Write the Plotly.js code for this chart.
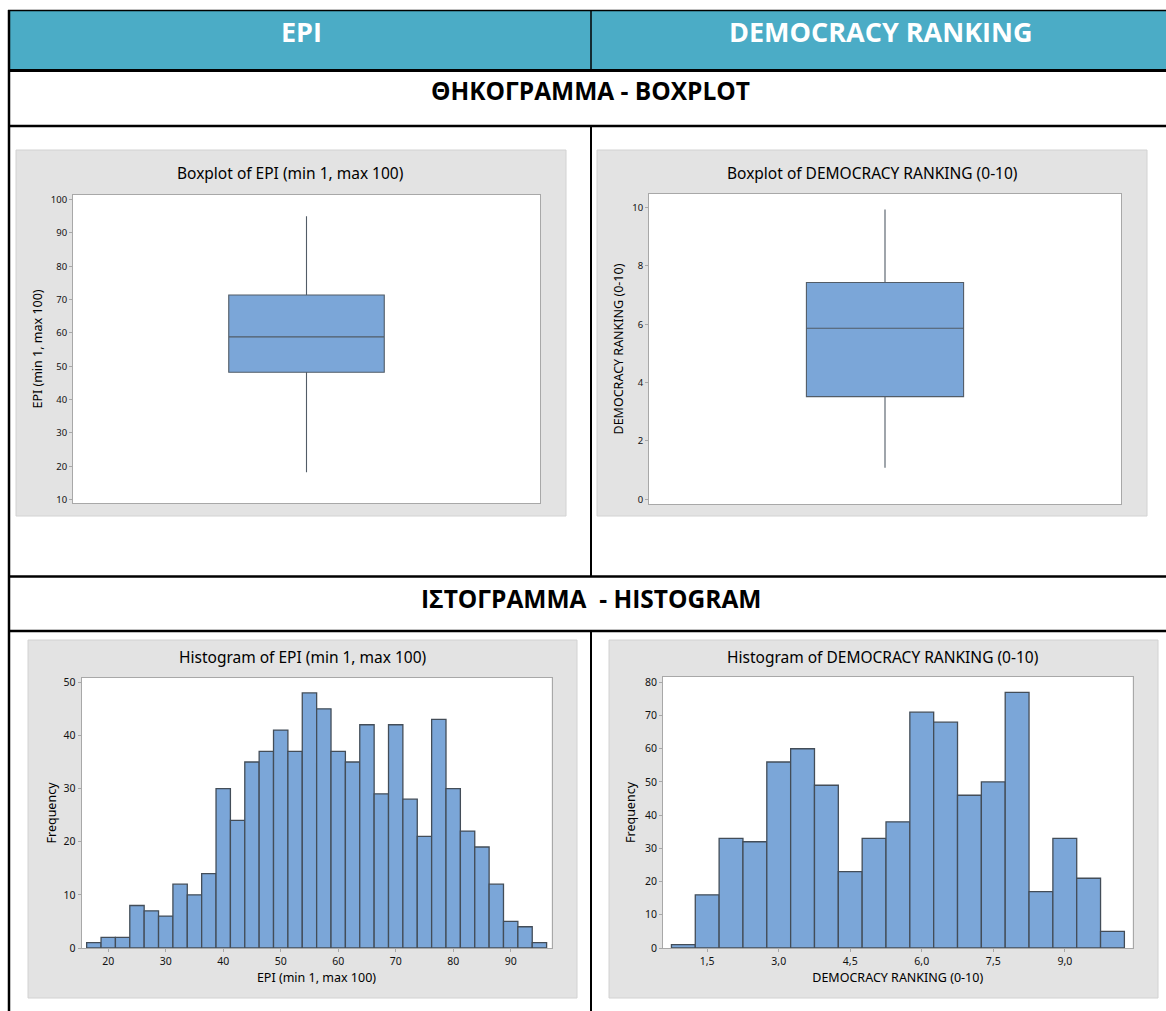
<!DOCTYPE html>
<html><head><meta charset="utf-8">
<script src="https://cdn.plot.ly/plotly-3.0.1.min.js"></script>
<style>html,body{margin:0;padding:0;background:#fff;} #chart{width:1166px;height:1011px;}</style>
</head><body><div id="chart"></div>
<script>
// ---------------- DATA ----------------
const columnHeaders = ['EPI', 'DEMOCRACY RANKING'];
const sectionHeaders = ['ΘΗΚΟΓΡΑΜΜΑ - BOXPLOT', 'ΙΣΤΟΓΡΑΜΜΑ\u00A0\u00A0- HISTOGRAM'];
const chartTitles = ['Boxplot of EPI (min 1, max 100)', 'Boxplot of DEMOCRACY RANKING (0-10)',
                     'Histogram of EPI (min 1, max 100)', 'Histogram of DEMOCRACY RANKING (0-10)'];
const epiLabel = 'EPI (min 1, max 100)';
const drLabel = 'DEMOCRACY RANKING (0-10)';

// Boxplot statistics
const epiLowerWhisker = [18.2];
const epiQ1 = [48.2];
const epiMedian = [58.8];
const epiQ3 = [71.4];
const epiUpperWhisker = [95.0];

const drLowerWhisker = [1.08];
const drQ1 = [3.52];
const drMedian = [5.86];
const drQ3 = [7.43];
const drUpperWhisker = [9.93];

// Histogram of EPI: bin midpoints (width 2.5) and frequencies
const epiBinCenters = [17.5, 20, 22.5, 25, 27.5, 30, 32.5, 35, 37.5, 40, 42.5, 45, 47.5, 50, 52.5, 55,
                       57.5, 60, 62.5, 65, 67.5, 70, 72.5, 75, 77.5, 80, 82.5, 85, 87.5, 90, 92.5, 95];
const epiCounts = [1, 2, 2, 8, 7, 6, 12, 10, 14, 30, 24, 35, 37, 41, 37, 48,
                   45, 37, 35, 42, 29, 42, 28, 21, 43, 30, 22, 19, 12, 5, 4, 1];

// Histogram of DEMOCRACY RANKING: bin midpoints (width 0.5) and frequencies
const drBinCenters = [1.0, 1.5, 2.0, 2.5, 3.0, 3.5, 4.0, 4.5, 5.0, 5.5, 6.0, 6.5, 7.0, 7.5, 8.0, 8.5, 9.0, 9.5, 10.0];
const drCounts = [1, 16, 33, 32, 56, 60, 49, 23, 33, 38, 71, 68, 46, 50, 77, 17, 33, 21, 5];

// Tick labels
const epiBoxTicks = [10, 20, 30, 40, 50, 60, 70, 80, 90, 100];
const drBoxTicks = [0, 2, 4, 6, 8, 10];
const epiHistXTicks = [20, 30, 40, 50, 60, 70, 80, 90];
const epiHistYTicks = [0, 10, 20, 30, 40, 50];
const drHistXTickVals = [1.5, 3.0, 4.5, 6.0, 7.5, 9.0];
const drHistXTickText = ['1,5', '3,0', '4,5', '6,0', '7,5', '9,0'];
const drHistYTicks = [0, 10, 20, 30, 40, 50, 60, 70, 80];

// ---------------- LAYOUT HELPERS ----------------
const W = 1166, H = 1011;
const px = v => v / W;
const py = v => 1 - v / H;
const dx = (a, b) => [px(a), px(b)];
const dy = (top, bottom) => [py(bottom), py(top)];

const BAR_BLUE = '#7BA6D8';
const FRAME = '#a8a8a8';
const FONT = 'Noto Sans, Open Sans, sans-serif';

const axisBase = {
  showline: true, mirror: true, linecolor: FRAME, linewidth: 1,
  showgrid: false, zeroline: false,
  ticks: 'outside', ticklen: 3, tickcolor: FRAME, tickwidth: 1,
  tickfont: {family: FONT, size: 10.5, color: '#111'},
  fixedrange: true
};
const ax = o => Object.assign({}, axisBase, o);

// plot areas in pixels  [left, right, top, bottom]
const areas = {
  b1: [73, 540, 195, 503],
  b2: [649, 1121, 194, 504],
  h1: [81.5, 551.5, 678, 948],
  h2: [663, 1132.5, 677, 948]
};
// gray panels
const panels = [[16, 566, 150, 516], [597, 1147, 150, 516], [28, 577, 640, 998], [609, 1158, 640, 998]];

// ---------------- TRACES ----------------
const traces = [
  {type: 'box', x: [0], q1: epiQ1, median: epiMedian, q3: epiQ3,
   lowerfence: epiLowerWhisker, upperfence: epiUpperWhisker,
   width: 0.333, whiskerwidth: 0, boxpoints: false,
   fillcolor: BAR_BLUE, line: {color: '#525c67', width: 1.1},
   xaxis: 'x', yaxis: 'y', hoverinfo: 'y'},
  {type: 'box', x: [0], q1: drQ1, median: drMedian, q3: drQ3,
   lowerfence: drLowerWhisker, upperfence: drUpperWhisker,
   width: 0.333, whiskerwidth: 0, boxpoints: false,
   fillcolor: BAR_BLUE, line: {color: '#525c67', width: 1.1},
   xaxis: 'x2', yaxis: 'y2', hoverinfo: 'y'},
  {type: 'bar', x: epiBinCenters, y: epiCounts, width: 2.5,
   marker: {color: BAR_BLUE, line: {color: '#434d58', width: 1.3}},
   xaxis: 'x3', yaxis: 'y3'},
  {type: 'bar', x: drBinCenters, y: drCounts, width: 0.5,
   marker: {color: BAR_BLUE, line: {color: '#434d58', width: 1.3}},
   xaxis: 'x4', yaxis: 'y4'}
];

const titleFont = {family: FONT, size: 12.5, color: '#000'};

const layout = {
  width: W, height: H,
  margin: {l: 0, r: 0, t: 0, b: 0, pad: 0},
  paper_bgcolor: '#ffffff', plot_bgcolor: 'rgba(0,0,0,0)',
  showlegend: false, bargap: 0,
  font: {family: FONT, color: '#111'},
  xaxis: ax({domain: dx(areas.b1[0], areas.b1[1]), range: [-0.5, 0.5], showticklabels: false, ticks: '', anchor: 'y'}),
  yaxis: ax({domain: dy(areas.b1[2], areas.b1[3]), range: [8.95, 101.4], tickvals: epiBoxTicks, anchor: 'x',
             tickfont: {family: FONT, size: 9.5, color: '#111'},
             title: {text: epiLabel, font: titleFont, standoff: 5}}),
  xaxis2: ax({domain: dx(areas.b2[0], areas.b2[1]), range: [-0.5, 0.5], showticklabels: false, ticks: '', anchor: 'y2'}),
  yaxis2: ax({domain: dy(areas.b2[2], areas.b2[3]), range: [-0.16, 10.46], tickvals: drBoxTicks, anchor: 'x2',
              tickfont: {family: FONT, size: 9.5, color: '#111'},
              title: {text: drLabel, font: titleFont, standoff: 5}}),
  xaxis3: ax({domain: dx(areas.h1[0], areas.h1[1]), range: [15.35, 97.1], tickvals: epiHistXTicks, anchor: 'y3',
              title: {text: epiLabel, font: titleFont, standoff: 6}}),
  yaxis3: ax({domain: dy(areas.h1[2], areas.h1[3]), range: [0, 50.8], tickvals: epiHistYTicks, anchor: 'x3',
              title: {text: 'Frequency', font: titleFont, standoff: 4}}),
  xaxis4: ax({domain: dx(areas.h2[0], areas.h2[1]), range: [0.573, 10.42], tickvals: drHistXTickVals, ticktext: drHistXTickText, anchor: 'y4',
              title: {text: drLabel, font: titleFont, standoff: 6}}),
  yaxis4: ax({domain: dy(areas.h2[2], areas.h2[3]), range: [0, 81.6], tickvals: drHistYTicks, anchor: 'x4',
              title: {text: 'Frequency', font: titleFont, standoff: 6}}),
  shapes: [],
  annotations: []
};

// Table structure
const S = layout.shapes;
const rect = (x0, x1, y0, y1, fill, line) => S.push({type: 'rect', xref: 'paper', yref: 'paper', layer: 'below',
  x0: px(x0), x1: px(x1), y0: py(y1), y1: py(y0), fillcolor: fill, line: line || {width: 0}});
const hline = (x0, x1, y, w) => S.push({type: 'line', xref: 'paper', yref: 'paper', layer: 'above',
  x0: px(x0), x1: px(x1), y0: py(y), y1: py(y), line: {color: '#000', width: w}});
const vline = (x, y0, y1, w) => S.push({type: 'line', xref: 'paper', yref: 'paper', layer: 'above',
  x0: px(x), x1: px(x), y0: py(y0), y1: py(y1), line: {color: '#000', width: w}});

rect(9, 1166, 10.5, 70.5, '#4BACC6');
panels.forEach(p => rect(p[0], p[1], p[2], p[3], '#E3E3E3', {color: '#d2d2d2', width: 1}));
Object.values(areas).forEach(a => rect(a[0], a[1], a[2], a[3], '#ffffff'));

hline(8, 1166, 10.5, 1.5);
vline(9, 10, 1011, 2.5);
hline(8, 1166, 70.5, 3);
hline(8, 1166, 126, 2.5);
hline(8, 1166, 576.5, 2.5);
hline(8, 1166, 631, 2.5);
vline(591, 10.5, 70, 1.5);
vline(591, 126, 576, 2);
vline(591, 631, 1011, 2);

// Texts
const A = layout.annotations;
const txt = (text, x, y, font) => A.push({text, x: px(x), y: py(y), xref: 'paper', yref: 'paper',
  xanchor: 'center', yanchor: 'middle', showarrow: false, font});
const headFont = {family: 'Open Sans, sans-serif', size: 27, color: '#ffffff', weight: 700};
const secFont = {family: 'Open Sans, sans-serif', size: 24.5, color: '#000000', weight: 700};
const chartTitleFont = {family: FONT, size: 15.5, color: '#000'};
txt(columnHeaders[0], 301, 31, headFont);
txt(columnHeaders[1], 881, 31, headFont);
txt(sectionHeaders[0], 590, 91, secFont);
txt(sectionHeaders[1], 591, 598, secFont);
txt(chartTitles[0], 290, 173, chartTitleFont);
txt(chartTitles[1], 872, 173, chartTitleFont);
txt(chartTitles[2], 303, 657, chartTitleFont);
txt(chartTitles[3], 883, 657, chartTitleFont);

Plotly.newPlot('chart', traces, layout, {displayModeBar: false, staticPlot: true});
</script>
</body></html>
